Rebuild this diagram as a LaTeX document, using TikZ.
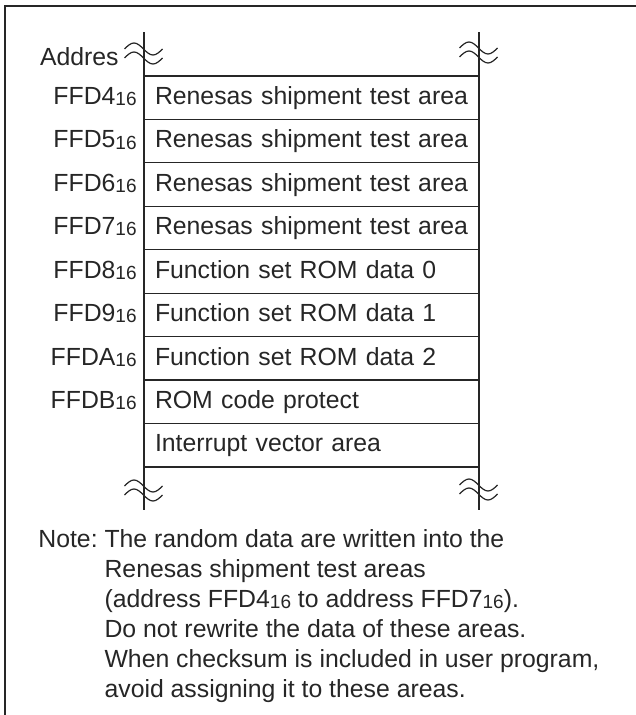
\documentclass[tikz,border=0pt]{standalone}
\usepackage{fontspec}
\setmainfont{Liberation Sans}
\usepackage{xcolor}
\usepackage{tikz}
\usetikzlibrary{positioning,calc}
\definecolor{inkgray}{HTML}{262626}
\newcommand{\hexsub}[1]{#1\raisebox{-0.6pt}{\fontsize{9.5}{10}\selectfont 16}}

\begin{document}
\begin{tikzpicture}[
    x=0.5pt, y=-0.5pt,
    font=\fontsize{12.4}{15}\selectfont,
    text=inkgray,
    cell/.style={draw=inkgray, line width=0.6pt, outer sep=0pt, minimum width=167.5pt, minimum height=21.72pt, text width=156.5pt, align=left, inner xsep=5.5pt, text height=0.72em, text depth=0.05em},
    adr/.style={inner sep=0pt},
    mapline/.style={draw=inkgray, line width=0.6pt},
    wave/.style={draw=inkgray, line width=0.6pt},
    frame/.style={draw=inkgray, line width=1.2pt},
    brk/.pic={
      \draw[wave] (-19,-4) sin (-9.5,-10) cos (0,-4) sin (9.5,2) cos (19,-4);
      \draw[wave] (-19,5) sin (-9.5,-1) cos (0,5) sin (9.5,11) cos (19,5);
    }
]
\useasboundingbox (0,0) rectangle (635,715);
% outer frame
\coordinate (fbl) at (5,720);
\coordinate (ftl) at (5,6);
\coordinate (ftr) at (640,6);
\draw[frame] (fbl) -- (ftl) -- (ftr);
% memory map
\foreach \adr/\txt [count=\i] in {FFD4/Renesas shipment test area, FFD5/Renesas shipment test area, FFD6/Renesas shipment test area, FFD7/Renesas shipment test area, FFD8/Function set ROM data 0, FFD9/Function set ROM data 1, FFDA/Function set ROM data 2, FFDB/ROM code protect}{
  \node[cell] (r\i) at (311.5,{97.72+43.44*(\i-1)}) {\txt};
  \node[adr, anchor=base east] (a\i) at ($(r\i.base west)+(-7,0)$) {\hexsub{\adr}};
}
\node[cell, below=0pt of r8] (r9) {Interrupt vector area};
\node[adr, anchor=east] (addr) at (119,57) {Addres};
\coordinate (ltop) at (144,32);
\coordinate (rtop) at (479,32);
\coordinate (lbot) at (144,510);
\coordinate (rbot) at (479,510);
\draw[mapline] (r1.north west) -- (ltop);
\draw[mapline] (r1.north east) -- (rtop);
\draw[mapline] (r9.south west) -- (lbot);
\draw[mapline] (r9.south east) -- (rbot);
% breaks
\pic at (143.5,53) {brk};
\pic at (478.5,52) {brk};
\pic at (143.5,490) {brk};
\pic at (478.5,489) {brk};
% note
\node[anchor=base west, inner sep=0pt] (note) at (38,547) {\begin{tabular}[t]{@{}l@{\ }l@{}}
Note: & The random data are written into the\\
 & Renesas shipment test areas\\
 & (address \hexsub{FFD4} to address \hexsub{FFD7}).\\
 & Do not rewrite the data of these areas.\\
 & When checksum is included in user program,\\
 & avoid assigning it to these areas.
\end{tabular}};
\end{tikzpicture}
\end{document}
